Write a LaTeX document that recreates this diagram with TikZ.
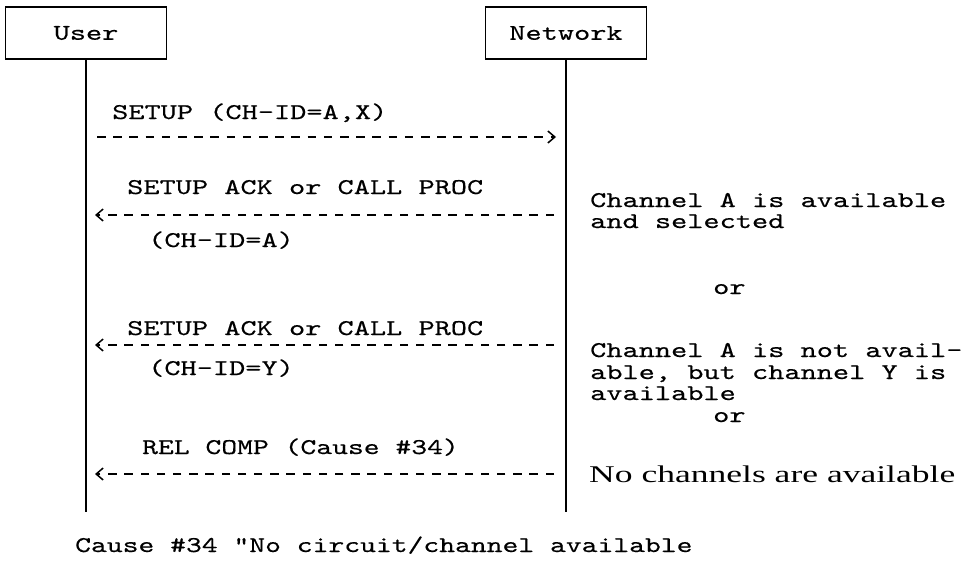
\documentclass[tikz,border=0pt]{standalone}
\usepackage{fontspec}
\usetikzlibrary{arrows.meta}
\newfontfamily\seqmono[FakeStretch=1.37,FakeBold=0.4]{lmmono10-regular.otf}
\newfontfamily\seqmonon[FakeStretch=1.34,FakeBold=0.4]{lmmono10-regular.otf}
\newfontfamily\seqserif{Liberation Serif}
\newcommand\monosize{\fontsize{22.5pt}{22.5pt}\selectfont}
\begin{document}
\begin{tikzpicture}[x=1pt,y=-1pt,
  actor/.style={draw, line width=1.4pt, minimum width=161pt, minimum height=52pt,
    inner sep=0pt, font=\seqmono\monosize},
  lifeline/.style={line width=1.8pt},
  msg/.style={line width=1.6pt, dash pattern=on 8.5pt off 7.7pt,
    -{Straight Barb[length=7pt,width=12pt,line width=1.5pt]}},
  txt/.style={anchor=base west, inner sep=0pt, font=\seqmono\monosize},
  txtn/.style={anchor=base west, inner sep=0pt, font=\seqmonon\monosize}]
\useasboundingbox (0,0) rectangle (963,562);

% participants and their lifelines
\node[actor] (user) at (86,33) {User};
\node[actor] (net) at (566,33) {Network};
\coordinate (userend) at (user.south |- 0,512);
\coordinate (netend) at (net.south |- 0,512);
\draw[lifeline] (user.south) -- (userend);
\draw[lifeline] (net.south) -- (netend);

% message end points on the lifelines
\coordinate (m1s) at (97,137);  \coordinate (m1e) at (556,137);
\coordinate (m2s) at (554,215); \coordinate (m2e) at (95,215);
\coordinate (m3s) at (554,345); \coordinate (m3e) at (95,345);
\coordinate (m4s) at (554,474); \coordinate (m4e) at (95,474);

\draw[msg] (m1s) -- (m1e);
\draw[msg] (m2s) -- (m2e);
\draw[msg] (m3s) -- (m3e);
\draw[msg] (m4s) -- (m4e);

% message labels
\node[txt] (l1) at (112,119) {SETUP (CH-ID=A,X)};
\node[txt] (l2) at (127,194) {SETUP ACK or CALL PROC};
\node[txt] (l2b) at (148,247) {(CH-ID=A)};
\node[txt] (l3) at (127,335) {SETUP ACK or CALL PROC};
\node[txt] (l3b) at (148,375) {(CH-ID=Y)};
\node[txtn] (l4) at (142,454) {REL COMP (Cause \#34)};

% network side remarks
\node[txt] (r1a) at (590,207) {Channel A is available};
\node[txt] (r1b) at (590,228) {and selected};
\node[txt] (or1) at (713,294) {or};
\node[txt] (r2a) at (590,357) {Channel A is not avail-};
\node[txt] (r2b) at (590,379) {able, but channel Y is};
\node[txt] (r2c) at (590,400) {available};
\node[txt] (or2) at (713,422) {or};
\node[anchor=base west, inner sep=0pt] (r3) at (589,482)
  {\resizebox{366pt}{\height}{\seqserif\fontsize{24pt}{24pt}\selectfont No channels are available}};

% footnote
\node[txtn] (note) at (75,552) {Cause \#34 "No circuit/channel available};
\end{tikzpicture}
\end{document}
